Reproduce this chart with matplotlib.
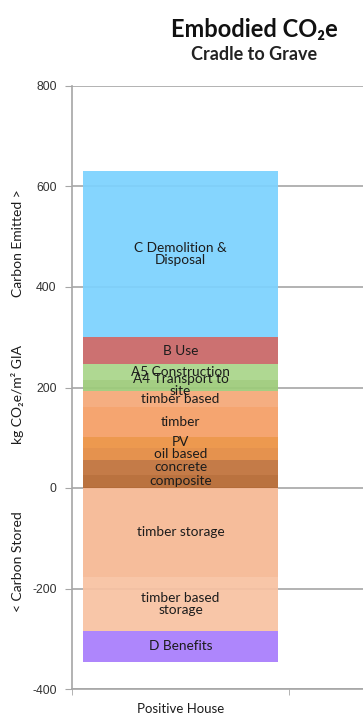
import matplotlib
matplotlib.use('Agg')
import matplotlib.pyplot as plt
import numpy as np

# Stacked bar, one category ("Positive House"); values in kg CO2e/m2 GIA
category = 'Positive House'

pos_labels = ['composite', 'concrete', 'oil based', 'PV', 'timber',
              'timber based', 'A4 Transport to\nsite', 'A5 Construction',
              'B Use', 'C Demolition &\nDisposal']
pos_values = [26, 30, 24, 22, 60, 32, 20, 32, 54, 330]
pos_colors = ['#B56730', '#C0713A', '#E48A40', '#EC9142', '#F59E65',
              '#F5A877', '#9DCB7A', '#A9D58A', '#C96666', '#7CD2FE']

neg_labels = ['timber storage', 'timber based\nstorage', 'D Benefits']
neg_values = [-177, -107, -62]
neg_colors = ['#F6B894', '#F8C2A2', '#A87DFC']

y_ticks = [-400, -200, 0, 200, 400, 600, 800]

FONT = ['Lato', 'DejaVu Sans']

fig = plt.figure(figsize=(3.63, 7.16), dpi=100)
ax = fig.add_axes([72/363, 27/716, 291/363, 603/716])

x = 0
width = 0.9


def stack(values, labels, colors):
    bottom = 0
    for v, lab, c in zip(values, labels, colors):
        ax.bar(x, v, width, bottom=bottom, color=c, alpha=0.93,
               edgecolor='none', zorder=2)
        ax.text(x, bottom + v / 2, lab, ha='center', va='center',
                fontsize=9.8, color='#1C1C1C', family=FONT,
                linespacing=1.0, zorder=3)
        bottom += v


stack(pos_values, pos_labels, pos_colors)
stack(neg_values, neg_labels, neg_colors)

ax.set_ylim(-400, 800)
ax.set_xlim(-0.5, 0.841)
ax.set_yticks(y_ticks)
ax.set_yticklabels([str(t) for t in y_ticks], fontsize=8.8,
                   family='Liberation Sans', color='#333333')
ax.yaxis.grid(True, color='#A6A6A6', linewidth=1.2, zorder=0)
ax.set_axisbelow(True)

ax.set_xticks([x])
ax.set_xticklabels([category], fontsize=9.5, family=FONT, color='#1C1C1C')
ax.tick_params(axis='x', which='major', length=0, pad=10)
ax.set_xticks([-0.5, 0.5], minor=True)
ax.tick_params(axis='x', which='minor', length=4, color='#A6A6A6',
               direction='out')
ax.tick_params(axis='y', length=5, color='#A6A6A6', direction='out', pad=6)

for side in ['top', 'right']:
    ax.spines[side].set_visible(False)
for side in ['left', 'bottom']:
    ax.spines[side].set_color('#A6A6A6')
    ax.spines[side].set_linewidth(1.2)

# Axis title in three pieces
for txt, ypx in [('Carbon Emitted >', 243), ('kg CO₂e/m² GIA', 395),
                 ('< Carbon Stored', 562)]:
    fig.text(18/363, 1 - ypx/716, txt, rotation=90, ha='center',
             va='center', fontsize=10, family=FONT, color='#1C1C1C')

fig.text(254/363, 1 - 29/716, 'Embodied CO₂e', ha='center', va='center',
         fontsize=17, fontweight='bold', family=FONT, color='#111111')
fig.text(254/363, 1 - 55/716, 'Cradle to Grave', ha='center', va='center',
         fontsize=13, fontweight='bold', family=FONT, color='#222222')

fig.savefig('out.png', dpi=100)
